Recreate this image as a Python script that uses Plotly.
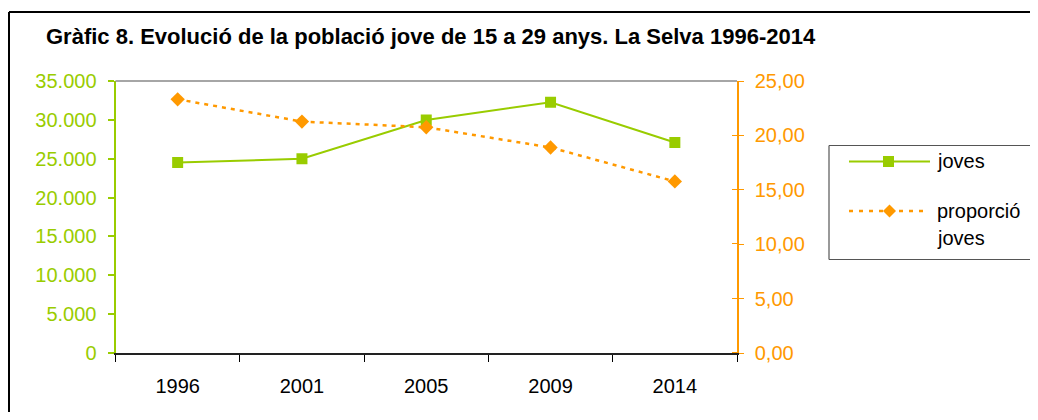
import plotly.graph_objects as go

years = ["1996", "2001", "2005", "2009", "2014"]
joves = [24520, 24990, 29990, 32260, 27080]
proporcio = [23.32, 21.27, 20.75, 18.89, 15.77]
title_text = "Gràfic 8. Evolució de la població jove de 15 a 29 anys. La Selva 1996-2014"
name_joves = "joves"
name_prop = "proporció joves"

# figure sized so the page (with the browser's 8px body margin) fits the window exactly
OFF = 8
W, H = 1038 - 2 * OFF, 420 - 2 * OFF
GREEN = "#99CC00"
ORANGE = "#FF9900"
FONT = "Arial, Liberation Sans, sans-serif"

def X(rx):
    return (rx - OFF) / W

def Y(ry):
    return 1 - (ry - OFF) / H

L, R, T, B = 115.5, 737, 81, 353

fig = go.Figure()
fig.add_trace(go.Scatter(
    x=years, y=joves, name=name_joves, mode="lines+markers",
    line=dict(color=GREEN, width=2),
    marker=dict(symbol="square", size=11, color=GREEN),
    xaxis="x", yaxis="y", showlegend=False,
))
fig.add_trace(go.Scatter(
    x=years, y=proporcio, name=name_prop, mode="lines+markers",
    line=dict(color=ORANGE, width=2.5, dash="4px,5px"),
    marker=dict(symbol="diamond", size=11, color=ORANGE),
    xaxis="x", yaxis="y2", showlegend=False,
))

fig.update_layout(
    width=W, height=H, autosize=False,
    margin=dict(l=0, r=0, t=0, b=0, pad=0, autoexpand=False),
    showlegend=False,
    paper_bgcolor="white", plot_bgcolor="white",
    separators=",.",
    font=dict(family=FONT, size=20, color="black"),
    xaxis=dict(
        domain=[X(L), X(R)], type="category", range=[-0.5, 4.5], tickson="boundaries",
        ticks="outside", ticklen=7, tickwidth=1, tickcolor="black",
        showline=True, linecolor="#222222", linewidth=1.5, automargin=False,
        showgrid=False, zeroline=False,
        tickfont=dict(size=20, color="black"), ticklabelstandoff=14,
    ),
    yaxis=dict(
        domain=[Y(B), Y(T)], range=[0, 35000], dtick=5000, tickformat=",.0f",
        ticks="outside", ticklen=6, tickwidth=1.5, tickcolor=GREEN,
        showline=True, linecolor=GREEN, linewidth=2, automargin=False,
        showgrid=False, zeroline=False,
        tickfont=dict(size=20, color=GREEN), ticklabelstandoff=7,
    ),
    yaxis2=dict(
        overlaying="y", side="right", anchor="x",
        range=[0, 25], dtick=5, tickformat=".2f",
        ticks="outside", ticklen=5, tickwidth=1, tickcolor=ORANGE,
        minor=dict(ticks="inside", tick0=0.02, dtick=5, ticklen=5, tickwidth=1,
                   tickcolor=ORANGE, showgrid=False),
        showline=True, linecolor=ORANGE, linewidth=1.5, automargin=False,
        showgrid=False, zeroline=False,
        tickfont=dict(size=20, color=ORANGE), ticklabelstandoff=7,
    ),
)

shapes = [
    # outer frame (top and left edges; the rest lies outside the picture)
    dict(type="line", xref="paper", yref="paper", x0=X(9), x1=1.0, y0=Y(12), y1=Y(12),
         line=dict(color="black", width=2)),
    dict(type="line", xref="paper", yref="paper", x0=X(9), x1=X(9), y0=Y(12), y1=0,
         line=dict(color="black", width=2)),
    dict(type="line", xref="paper", yref="paper", x0=X(L), x1=X(R), y0=Y(T), y1=Y(T),
         line=dict(color="#888888", width=1.5)),
    # legend box
    dict(type="line", xref="paper", yref="paper", x0=X(829), x1=1.0, y0=Y(145.5), y1=Y(145.5),
         line=dict(color="#555555", width=1.2)),
    dict(type="line", xref="paper", yref="paper", x0=X(829), x1=1.0, y0=Y(259.5), y1=Y(259.5),
         line=dict(color="#555555", width=1.2)),
    dict(type="line", xref="paper", yref="paper", x0=X(829), x1=X(829), y0=Y(145.5), y1=Y(259.5),
         line=dict(color="#555555", width=1.2)),
    dict(type="line", xref="paper", yref="paper", x0=X(849), x1=X(930), y0=Y(161.5), y1=Y(161.5),
         line=dict(color=GREEN, width=2)),
    dict(type="rect", xref="paper", yref="paper", x0=X(883), x1=X(894), y0=Y(156), y1=Y(167),
         fillcolor=GREEN, line=dict(width=0)),
    dict(type="line", xref="paper", yref="paper", x0=X(849), x1=X(928), y0=Y(211), y1=Y(211),
         line=dict(color=ORANGE, width=2.5, dash="4px,6px")),
    dict(type="path", xref="paper", yref="paper",
         path=f"M {X(889.5)} {Y(204.5)} L {X(896)} {Y(211)} L {X(889.5)} {Y(217.5)} L {X(883)} {Y(211)} Z",
         fillcolor=ORANGE, line=dict(width=0)),
]
fig.update_layout(shapes=shapes)

prop_lines = name_prop.split(" ")
annotations = [
    dict(text=f"<b>{title_text}</b>", xref="paper", yref="paper", x=X(44), y=Y(37),
         xanchor="left", yanchor="middle", showarrow=False,
         font=dict(family=FONT, size=22, color="black")),
    dict(text=name_joves, xref="paper", yref="paper", x=X(935), y=Y(161),
         xanchor="left", yanchor="middle", showarrow=False, font=dict(size=20)),
    dict(text=prop_lines[0], xref="paper", yref="paper", x=X(935), y=Y(211),
         xanchor="left", yanchor="middle", showarrow=False, font=dict(size=20)),
    dict(text=prop_lines[1], xref="paper", yref="paper", x=X(935), y=Y(238),
         xanchor="left", yanchor="middle", showarrow=False, font=dict(size=20)),
]
fig.update_layout(annotations=annotations)

fig.write_html("out.html")
